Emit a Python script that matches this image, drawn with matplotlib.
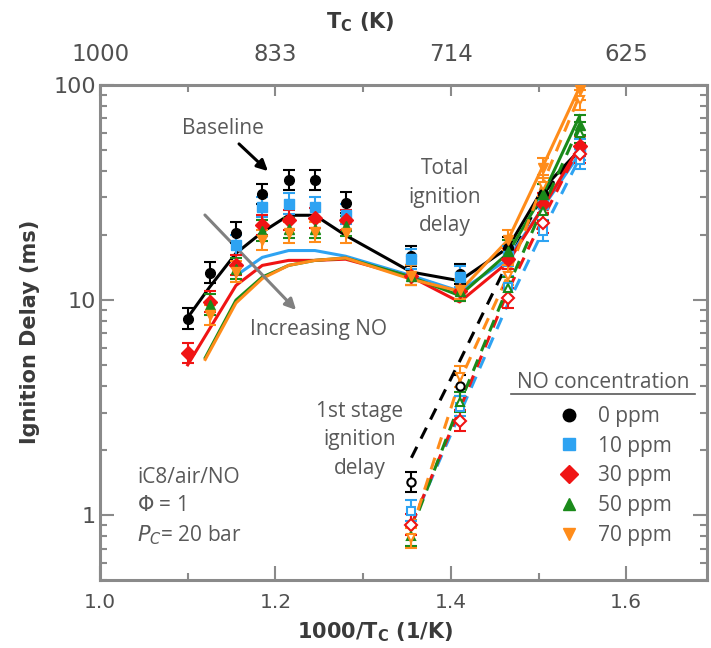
import numpy as np
import matplotlib.pyplot as plt
from matplotlib.lines import Line2D

# experimental points, total ignition delay (filled markers)
x_exp = [1.10, 1.125, 1.155, 1.185, 1.215, 1.245, 1.28, 1.355, 1.41, 1.465, 1.505, 1.547]
tot_0 = [8.2, 13.4, 20.5, 31, 36, 36, 28.3, 16, 13.2, 17.5, 31, 52]
tot_10 = [np.nan, np.nan, 18, 27, 28, 27, 25, 15.5, 12.8, 16, 28, 50]
tot_30 = [5.65, 9.8, 14.5, 22.3, 23.5, 24, 23.5, 13, 11, 15.5, 28, 52]
tot_50 = [np.nan, 9.5, 14, 21, 21.5, 21.5, 22, 13, 11, 17, 31, 65]
tot_70 = [np.nan, 8.5, 13.5, 19, 20.5, 20.7, 20.5, 13, 11.2, 19, 41, 95]

# experimental points, 1st stage ignition delay (open markers)
x_fs = [1.355, 1.41, 1.465, 1.505, 1.547]
fs_0 = [1.42, 4.0, np.nan, np.nan, np.nan]
fs_10 = [1.05, 3.2, 11.5, 21, 45]
fs_30 = [0.9, 2.75, 10.2, 22.8, 48]
fs_50 = [0.8, 3.35, 11.4, 26, 60]
fs_70 = [0.78, 4.4, 13, 34, 85]

# model, total ignition delay (solid lines)
xm_0 = [1.10, 1.125, 1.155, 1.185, 1.215, 1.245, 1.28, 1.355, 1.41, 1.465, 1.505, 1.547]
m_0 = [8.3, 11.5, 16.5, 20.7, 24.8, 24.8, 20, 13.5, 12.3, 17.5, 33, 50]
xm_10 = [1.155, 1.185, 1.215, 1.245, 1.28, 1.355, 1.41, 1.465, 1.505, 1.547]
m_10 = [13, 15.8, 17, 17, 16, 13, 11, 15.5, 27, 48]
xm_30 = [1.10, 1.155, 1.185, 1.215, 1.245, 1.28, 1.355, 1.41, 1.465, 1.505, 1.547]
m_30 = [5.0, 11.7, 14.5, 15.3, 15.3, 15.5, 12.8, 9.8, 15, 27, 52]
xm_50 = [1.12, 1.155, 1.185, 1.215, 1.245, 1.28, 1.355, 1.41, 1.465, 1.505, 1.547]
m_50 = [5.4, 10, 12.8, 14.5, 15.3, 15.7, 12.8, 10.5, 16.5, 31, 72]
m_70 = [5.3, 9.7, 12.6, 14.5, 15.3, 15.7, 12.5, 11, 19, 42, 98]

# model, 1st stage (dashed lines)
xd = [1.355, 1.41, 1.465, 1.505, 1.547]
d_0 = [1.85, 5.2, 15, 31, 50]
d_10 = [0.9, 2.95, 9.6, 21, 46]
d_30 = [0.9, 3.1, 11, 24, 52]
d_50 = [0.85, 3.3, 11.5, 27, 65]
d_70 = [0.85, 4.2, 13, 35, 90]

labels = ['0 ppm', '10 ppm', '30 ppm', '50 ppm', '70 ppm']
colors = ['black', '#2EA3F2', '#F01414', '#1A8A1A', '#FF8C1A']
markers = ['o', 's', 'D', '^', 'v']

tot = [tot_0, tot_10, tot_30, tot_50, tot_70]
fs = [fs_0, fs_10, fs_30, fs_50, fs_70]
xm = [xm_0, xm_10, xm_30, xm_50, xm_50]
mod = [m_0, m_10, m_30, m_50, m_70]
dsh = [d_0, d_10, d_30, d_50, d_70]

W, H = 711, 648
def px(x, y):
    # image pixel -> figure fraction
    return x / W, 1 - y / H

tfont = 'DejaVu Sans'
afont = 'Open Sans'
grey = '#595959'
dark = '#3a3a3a'
light = '#505050'
spine = '#8a8a8a'

fig = plt.figure(figsize=(W / 100, H / 100), dpi=100)
ax = fig.add_axes([100 / W, 1 - 580 / H, 607 / W, 495 / H])
ax.set_yscale('log')

for i in range(5):
    c = colors[i]
    ax.plot(xm[i], mod[i], color=c, lw=2.2, zorder=3)
    ax.plot(xd, dsh[i], color=c, lw=2.2, ls=(0, (4, 3)), zorder=3)
    y = np.array(tot[i])
    ax.errorbar(x_exp, y, yerr=[y * 0.1, y * 0.12], fmt=markers[i], color=c,
                ms=7, elinewidth=1.5, capsize=4, capthick=1.5, zorder=4)
    y2 = np.array(fs[i])
    ax.errorbar(x_fs, y2, yerr=[y2 * 0.1, y2 * 0.12], fmt=markers[i], color=c,
                mfc='white', mec=c, mew=1.5, ms=6, elinewidth=1.5,
                capsize=4, capthick=1.5, zorder=4)

ax.set_xlim(1.0, 1.692)
ax.set_ylim(0.5, 100)
ax.set_xticks([1.0, 1.2, 1.4, 1.6])
ax.set_xticks([1.1, 1.3, 1.5], minor=True)
ax.set_xticklabels(['1.0', '1.2', '1.4', '1.6'])
ax.set_yticks([1, 10, 100])
ax.set_yticklabels(['1', '10', '100'])
ax.tick_params(which='both', direction='in', color=spine, width=1.5, right=True,
               labelcolor=light)
ax.tick_params(which='major', length=10)
ax.tick_params(which='minor', length=5)
ax.tick_params(axis='x', labelsize=14.5, pad=9)
ax.tick_params(axis='y', labelsize=16, pad=3)
for s in ax.spines.values():
    s.set_color(spine)
    s.set_linewidth(2.2)
for t in ax.get_xticklabels() + ax.get_yticklabels():
    t.set_fontfamily(tfont)

# top axis in temperature
top = ax.twiny()
top.set_xlim(ax.get_xlim())
top.set_xticks([1.0, 1.2, 1.4, 1.6])
top.set_xticks([1.1, 1.3, 1.5], minor=True)
top.set_xticklabels(['1000', '833', '714', '625'])
top.tick_params(which='both', direction='in', color=spine, width=1.5,
                labelsize=16.5, labelcolor=light, pad=14)
top.tick_params(which='major', length=8)
top.tick_params(which='minor', length=5)
for t in top.get_xticklabels():
    t.set_fontfamily(tfont)
for s in top.spines.values():
    s.set_visible(False)

# axis titles
lab = dict(fontsize=15, fontweight='bold', family=tfont, color=dark,
           ha='center', va='center')
fig.text(*px(375, 632), '1000/T$_\\mathregular{C}$ (1/K)', **lab)
fig.text(*px(360, 22), 'T$_\\mathregular{C}$ (K)', **lab)
fig.text(*px(30, 332), 'Ignition Delay (ms)', rotation=90, **lab)

# annotations
tk = dict(fontsize=15, family=afont, color=grey, ha='center', va='center')
fig.text(*px(223, 128), 'Baseline', **tk)
ax.annotate('', xy=px(270, 173), xytext=px(237, 142), xycoords='figure fraction',
            arrowprops=dict(arrowstyle='-|>', color='black', lw=2.2, mutation_scale=16))
ax.annotate('', xy=px(298, 312), xytext=px(203, 213), xycoords='figure fraction',
            arrowprops=dict(arrowstyle='-|>', color='#808080', lw=2.2, mutation_scale=16))
fig.text(*px(319, 330), 'Increasing NO', **tk)
fig.text(*px(445, 197), 'Total\nignition\ndelay', linespacing=1.45, **tk)
fig.text(*px(360, 440), '1st stage\nignition\ndelay', linespacing=1.45, **tk)
fig.text(*px(137, 507), 'iC8/air/NO\n$\\Phi$ = 1\n$P_C$= 20 bar', fontsize=15,
         family=afont, color=grey, ha='left', va='center', linespacing=1.45)

# legend
fig.text(*px(603, 383), 'NO concentration', **tk)
fig.add_artist(Line2D([511 / W, 695 / W], [1 - 394 / H, 1 - 394 / H],
                      color=grey, lw=1.2))
handles = [Line2D([], [], ls='none', marker=markers[i], color=colors[i], ms=9)
           for i in range(5)]
leg = fig.legend(handles, labels, loc='upper left', bbox_to_anchor=px(559, 406),
                 frameon=False, borderpad=0, borderaxespad=0, handlelength=1.0,
                 handletextpad=0.85, labelspacing=0.42,
                 prop={'family': afont, 'size': 15})
for t in leg.get_texts():
    t.set_color(grey)

fig.savefig('out.png', dpi=100)
